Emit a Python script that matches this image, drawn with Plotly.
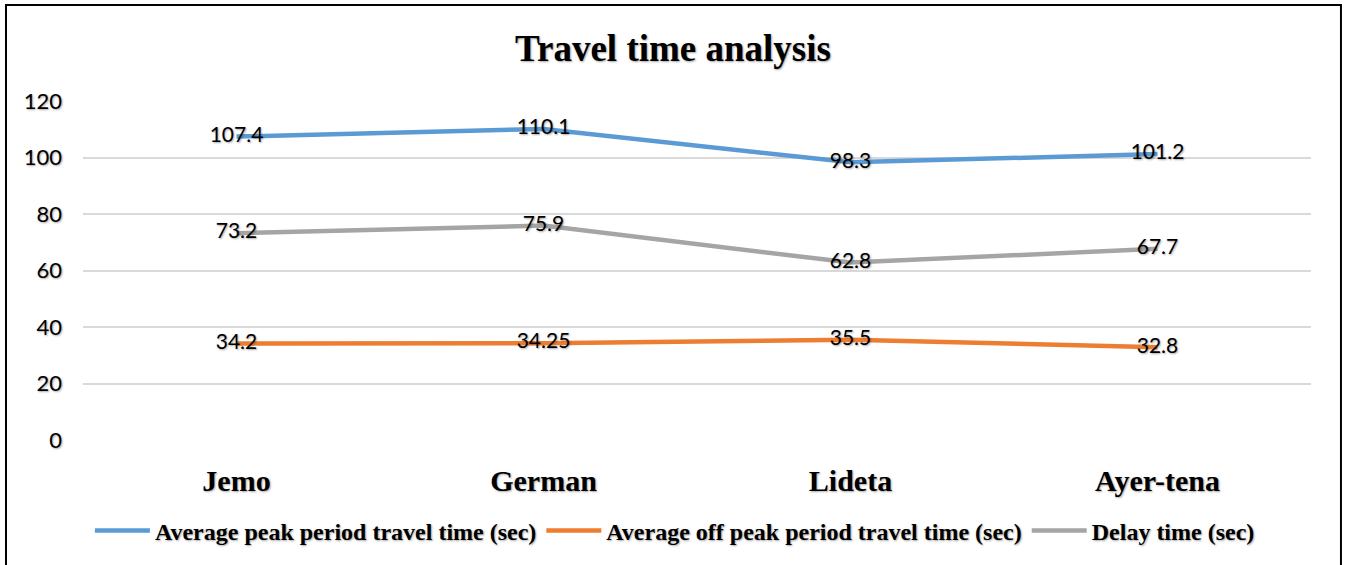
import plotly.graph_objects as go

locations = ["Jemo", "German", "Lideta", "Ayer-tena"]
peak_travel = [107.4, 110.1, 98.3, 101.2]
offpeak_travel = [34.2, 34.25, 35.5, 32.8]
delay_time = [73.2, 75.9, 62.8, 67.7]
y_ticks = [0, 20, 40, 60, 80, 100, 120]

series = [
    ("Average peak period travel time (sec)", peak_travel, "#5B9BD5"),
    ("Average off peak period travel time (sec)", offpeak_travel, "#ED7D31"),
    ("Delay time (sec)", delay_time, "#A5A5A5"),
]

shadow = "1px 1px 2px rgba(0,0,0,0.35)"

fig = go.Figure()
for name, vals, color in series:
    fig.add_trace(go.Scatter(
        x=locations, y=vals, name=name, mode="lines+text",
        line=dict(color=color, width=4.5),
        text=[str(v) for v in vals], textposition="middle center",
        textfont=dict(family="Lato, Carlito, sans-serif", size=21, color="black", shadow=shadow),
        cliponaxis=False,
    ))

fig.update_layout(
    width=1346, height=565,
    margin=dict(l=83, r=35, t=101, b=125),
    paper_bgcolor="white", plot_bgcolor="white",
    title=dict(text="<b>Travel time analysis</b>", x=0.5, xanchor="center", y=0.915, yanchor="middle",
               font=dict(family="Liberation Serif", size=37, color="black", shadow=shadow)),
    xaxis=dict(range=[-0.5, 3.5], showgrid=False, zeroline=False, showline=False, ticks="",
               tickfont=dict(family="Liberation Serif", size=30, color="black", weight="bold", shadow=shadow),
               ticklabelstandoff=20),
    yaxis=dict(range=[0, 120], tickvals=y_ticks, showgrid=True, gridcolor="#D9D9D9", gridwidth=1.5,
               zeroline=False, showline=False, ticks="",
               tickfont=dict(family="Lato, Carlito, sans-serif", size=22, color="black", shadow=shadow),
               ticklabelstandoff=20),
    legend=dict(orientation="h", x=0.482, xanchor="center", y=-0.268, yanchor="middle",
                font=dict(family="Liberation Serif", size=24, color="black", weight="bold", shadow=shadow),
                itemwidth=55, tracegroupgap=0),
    showlegend=True,
)

fig.add_shape(type="rect", xref="paper", yref="paper",
              x0=-0.0627, x1=1.0244, y0=-0.4, y1=1.283,
              line=dict(color="black", width=2), fillcolor="rgba(0,0,0,0)", layer="above")

fig.write_html("out.html")
